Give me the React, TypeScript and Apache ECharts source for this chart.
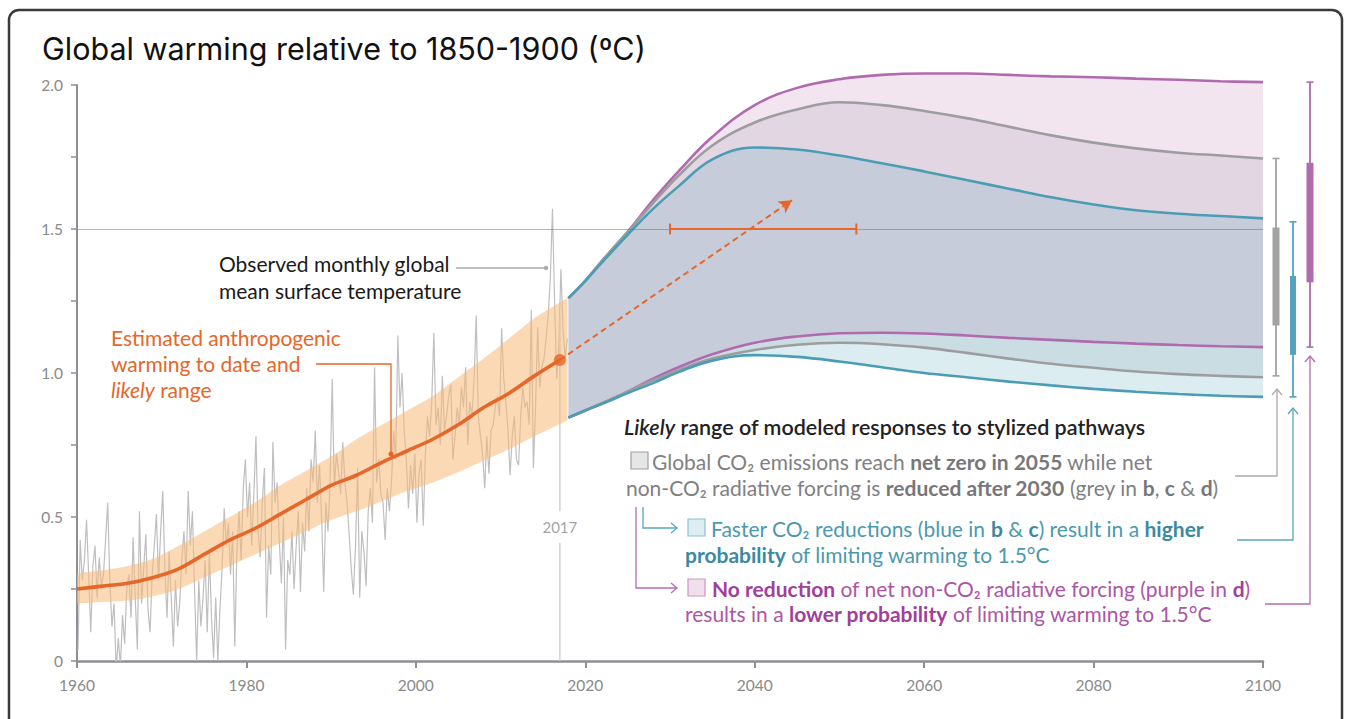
import React, { useEffect, useRef } from "react";
import * as echarts from "echarts";

const FONT = "Lato, 'Noto Sans', 'DejaVu Sans', sans-serif";
const TITLE_FONT = "Inter, 'Noto Sans', sans-serif";

// ---------- Observed monthly GMST (read at quarterly resolution) ----------
const obsStartYear = 1960;
const obsStep = 0.25;
const observedQuarterly = [
  0.04, 0.42, 0.28, 0.35, // 1960
  0.49, 0.3, 0.1, 0.33,
  0.4, 0.22, 0.36, 0.26,
  0.3, 0.42, 0.55, 0.28,
  0.12, 0.2, -0.03, 0.08,
  -0.02, 0.16, 0.06, 0.25, // 1965
  0.3, 0.15, 0.43, 0.22,
  0.04, 0.52, 0.2, 0.32,
  0.44, 0.18, 0.1, 0.3,
  0.4, 0.51, 0.28, 0.45,
  0.59, 0.32, 0.15, 0.38, // 1970
  0.22, 0.05, 0.28, 0.12,
  0.2, 0.35, 0.45, 0.3,
  0.59, 0.4, 0.52, 0.25,
  0.0, 0.28, 0.12, 0.22,
  0.35, 0.1, 0.38, 0.15, // 1975
  0.01, 0.22, 0.0, 0.18,
  0.32, 0.53, 0.4, 0.48,
  0.3, 0.45, 0.05, 0.38,
  0.52, 0.35, 0.6, 0.7,
  0.5, 0.62, 0.4, 0.58, // 1980
  0.78, 0.45, 0.36, 0.55,
  0.67, 0.15, 0.4, 0.3,
  0.76, 0.55, 0.62, 0.42,
  0.27, 0.5, 0.04, 0.35,
  0.3, 0.45, 0.25, 0.4, // 1985
  0.52, 0.24, 0.48, 0.38,
  0.6, 0.45, 0.7, 0.62,
  0.8, 0.55, 0.68, 0.5,
  0.24, 0.55, 0.45, 0.62,
  0.98, 0.6, 0.72, 0.66, // 1990
  0.58, 0.76, 0.62, 0.55,
  0.44, 0.32, 0.23, 0.4,
  0.67, 0.22, 0.45, 0.38,
  0.26, 0.52, 0.6, 0.48,
  1.02, 0.62, 0.7, 0.58, // 1995
  0.55, 0.42, 0.6, 0.52,
  0.62, 0.8, 0.7, 1.13,
  0.88, 1.0, 0.8, 0.7,
  0.53, 0.68, 0.58, 0.72,
  0.48, 0.65, 0.7, 0.47, // 2000
  0.72, 0.85, 0.78, 0.9,
  1.14, 0.82, 0.88, 0.75,
  0.99, 0.8, 0.85, 0.92,
  0.96, 0.7, 0.78, 0.88,
  0.82, 0.95, 0.88, 1.02, // 2005
  0.75, 0.9, 0.85, 0.98,
  1.2, 0.85, 0.78, 0.72,
  0.6, 0.78, 0.65, 0.8,
  0.82, 0.88, 0.92, 0.85,
  1.155, 0.98, 0.9, 0.8, // 2010
  0.645, 0.78, 0.85, 0.7,
  0.68, 0.85, 0.95, 0.88,
  0.9, 0.82, 1.22, 0.67,
  0.88, 1.16, 0.95, 1.02,
  1.05, 1.12, 1.2, 1.33, // 2015
  1.57, 1.25, 0.98, 1.1,
  1.36, 1.15, 1.05, 1.12,
];

// ---------- Estimated anthropogenic warming and likely range ----------
const anthroYears = [1960, 1963, 1966, 1969, 1972, 1975, 1978, 1981, 1984, 1987, 1990, 1993, 1996, 1999, 2002, 2005, 2008, 2011, 2014, 2017];
const anthroValues = [0.25, 0.26, 0.27, 0.29, 0.32, 0.37, 0.42, 0.46, 0.51, 0.56, 0.61, 0.645, 0.69, 0.73, 0.77, 0.82, 0.88, 0.93, 0.99, 1.045];

const bandYears = [1960, 1963, 1966, 1969, 1972, 1975, 1978, 1981, 1984, 1987, 1990, 1993, 1996, 1999, 2002, 2005, 2008, 2011, 2014, 2017.9];
const bandLow = [0.2, 0.205, 0.21, 0.225, 0.25, 0.29, 0.33, 0.37, 0.41, 0.45, 0.49, 0.52, 0.555, 0.59, 0.62, 0.655, 0.695, 0.735, 0.78, 0.835];
const bandHigh = [0.305, 0.315, 0.33, 0.355, 0.4, 0.45, 0.5, 0.55, 0.61, 0.66, 0.71, 0.77, 0.82, 0.87, 0.92, 0.985, 1.05, 1.12, 1.19, 1.26];

// ---------- Modeled pathways 2018-2100 ----------
const futureYears = [2018, 2020, 2022, 2025, 2028, 2031, 2035, 2040, 2045, 2050, 2055, 2060, 2065, 2070, 2075, 2080, 2085, 2090, 2095, 2100];
const purpleHigh = [1.26, 1.32, 1.39, 1.49, 1.6, 1.7, 1.82, 1.93, 1.99, 2.02, 2.035, 2.04, 2.04, 2.035, 2.03, 2.027, 2.022, 2.018, 2.013, 2.01];
const greyHigh = [1.26, 1.32, 1.39, 1.49, 1.59, 1.685, 1.79, 1.87, 1.915, 1.94, 1.93, 1.91, 1.885, 1.855, 1.825, 1.8, 1.78, 1.765, 1.755, 1.745];
const blueHigh = [1.26, 1.32, 1.385, 1.48, 1.57, 1.648, 1.742, 1.783, 1.776, 1.755, 1.728, 1.7, 1.67, 1.64, 1.61, 1.585, 1.565, 1.553, 1.545, 1.537];
const purpleLow = [0.845, 0.87, 0.895, 0.935, 0.98, 1.02, 1.065, 1.105, 1.127, 1.138, 1.14, 1.137, 1.13, 1.122, 1.115, 1.108, 1.102, 1.097, 1.093, 1.09];
const greyLow = [0.845, 0.87, 0.895, 0.935, 0.975, 1.01, 1.05, 1.08, 1.098, 1.105, 1.1, 1.088, 1.07, 1.05, 1.032, 1.018, 1.005, 0.996, 0.99, 0.985];
const blueLow = [0.845, 0.87, 0.893, 0.93, 0.965, 1.003, 1.043, 1.062, 1.056, 1.04, 1.02, 1.0, 0.985, 0.97, 0.957, 0.945, 0.935, 0.927, 0.921, 0.917];

// ---------- 2100 ranges (grey, blue, purple) ----------
const rangeBarLow = [0.99, 0.917, 1.09];
const rangeBarQ1 = [1.165, 1.063, 1.315];
const rangeBarQ3 = [1.505, 1.337, 1.73];
const rangeBarHigh = [1.745, 1.525, 2.01];

// ---------- Annotations ----------
const referenceLevel = 1.5;
const timingRange = [2030, 2052];
const currentYear = 2017;
const currentWarming = 1.045;
const arrowTarget = [2044.4, 1.6];

// styles
const ORANGE = "#e5672a";
const PURPLE = "#b06aae";
const GREY = "#9d9d9f";
const BLUE = "#4b9db6";
const AXIS = "#8e8e94";
const FS = 21;
const barStyles = [
  { offset: 13, color: "#a2a2a4", thick: 7 },
  { offset: 30, color: "#57a3bb", thick: 6 },
  { offset: 47, color: "#b06aae", thick: 7 },
];

function pairs(xs: number[], ys: number[]) {
  return xs.map((x, i) => [x, ys[i]]);
}
// value first, year second (used with encode {x:1, y:0} so stacking happens on the value)
function vpairs(xs: number[], ys: number[]) {
  return xs.map((x, i) => [ys[i], x]);
}
function diff(a: number[], b: number[]) {
  return a.map((v, i) => +(v - b[i]).toFixed(4));
}

function txt(x: number, y: number, text: string, fill: string, extra: any = {}) {
  return {
    type: "text",
    x,
    y,
    silent: true,
    z: 50,
    style: {
      text,
      fill,
      fontFamily: FONT,
      fontSize: FS,
      align: "left",
      verticalAlign: "middle",
      ...extra,
    },
  };
}
function richPart(fill: string, weight: any = "bold", style = "normal", size = FS) {
  return { fill, fontFamily: FONT, fontSize: size, fontWeight: weight, fontStyle: style };
}
function pline(points: number[][], stroke: string, w = 1.3) {
  return { type: "polyline", silent: true, z: 50, shape: { points }, style: { stroke, lineWidth: w, fill: "none" } };
}
function chevUp(x: number, y: number, stroke: string) {
  return pline([[x - 5, y + 6], [x, y], [x + 5, y + 6]], stroke, 1.3);
}
function chevRight(x: number, y: number, stroke: string) {
  return pline([[x - 6, y - 5], [x, y], [x - 6, y + 5]], stroke, 1.3);
}
function box(x: number, y: number, fill: string, stroke: string) {
  return { type: "rect", silent: true, z: 50, shape: { x, y, width: 17, height: 17 }, style: { fill, stroke, lineWidth: 1.2 } };
}

function buildOption(): any {
  const obsData = observedQuarterly.map((v, i) => [obsStartYear + obsStep * (i + 0.5), v]);
  const layers = [
    { d: blueLow, color: "transparent" },
    { d: diff(greyLow, blueLow), color: "#dcedf2" },
    { d: diff(purpleLow, greyLow), color: "#cadde2" },
    { d: diff(blueHigh, purpleLow), color: "#c6ccda" },
    { d: diff(greyHigh, blueHigh), color: "#e3d6e3" },
    { d: diff(purpleHigh, greyHigh), color: "#f2e5f0" },
  ];
  const SM = 0.4;

  const series: any[] = [];
  // observed
  series.push({
    type: "line",
    data: obsData,
    showSymbol: false,
    lineStyle: { color: "#bfbfc1", width: 1.2 },
    z: 2,
  });
  // 2017 reference line
  series.push({
    type: "line",
    data: [[currentYear, 0], [currentYear, 0.41]],
    showSymbol: false,
    lineStyle: { color: "#d2d2d2", width: 1.5 },
    z: 2,
  });
  series.push({
    type: "line",
    data: [[currentYear, 0.52], [currentYear, 1.2]],
    showSymbol: false,
    lineStyle: { color: "#d2d2d2", width: 1.5 },
    z: 2,
  });
  series.push({
    type: "scatter",
    data: [[currentYear, 0.465]],
    symbolSize: 1,
    itemStyle: { color: "rgba(0,0,0,0)" },
    label: { show: true, position: "inside", formatter: "2017", color: "#8a8a8a", fontFamily: FONT, fontSize: 15 },
    z: 3,
  });
  // likely range band (stacked on the value dimension)
  series.push({
    type: "line",
    data: vpairs(bandYears, bandLow),
    encode: { x: 1, y: 0 },
    stack: "band",
    stackStrategy: "all",
    smooth: 0.3,
    showSymbol: false,
    lineStyle: { width: 0, opacity: 0 },
    z: 3,
  });
  series.push({
    type: "line",
    data: vpairs(bandYears, diff(bandHigh, bandLow)),
    encode: { x: 1, y: 0 },
    stack: "band",
    stackStrategy: "all",
    smooth: 0.3,
    showSymbol: false,
    lineStyle: { width: 0, opacity: 0 },
    areaStyle: { color: "#fab978", opacity: 0.55 },
    z: 3,
  });
  // future stacked areas
  layers.forEach((l, i) => {
    series.push({
      type: "line",
      data: vpairs(futureYears, l.d),
      encode: { x: 1, y: 0 },
      stack: "future",
      stackStrategy: "all",
      smooth: SM,
      showSymbol: false,
      clip: i !== layers.length - 1,
      lineStyle: { width: 0, opacity: 0 },
      areaStyle: i === 0 ? { opacity: 0 } : { color: l.color, opacity: 1 },
      z: 3,
    });
  });
  // boundary lines
  const bounds = [
    [purpleHigh, PURPLE, false], [purpleLow, PURPLE, true],
    [greyHigh, GREY, true], [greyLow, GREY, true],
    [blueHigh, BLUE, true], [blueLow, BLUE, true],
  ] as any[];
  bounds.forEach(([d, c, clip]) => {
    series.push({
      type: "line",
      data: pairs(futureYears, d),
      smooth: SM,
      showSymbol: false,
      clip,
      lineStyle: { color: c, width: 2.6 },
      z: 4,
    });
  });
  // anthropogenic warming line
  series.push({
    type: "line",
    data: pairs(anthroYears, anthroValues),
    smooth: 0.3,
    showSymbol: false,
    lineStyle: { color: ORANGE, width: 3.6 },
    z: 6,
    markLine: {
      silent: true,
      symbol: ["none", "arrow"],
      symbolSize: [11, 13],
      label: { show: false },
      lineStyle: { color: ORANGE, width: 2, type: [6, 4] },
      data: [[{ coord: [currentYear, currentWarming] }, { coord: arrowTarget }]],
    },
  });
  // 1.5 reference line
  series.push({
    type: "line",
    data: [],
    z: 5,
    markLine: {
      silent: true,
      symbol: ["none", "none"],
      label: { show: false },
      lineStyle: { color: "rgba(110,110,115,0.5)", width: 1.2, type: "solid" },
      data: [{ yAxis: referenceLevel }],
    },
  });
  // current dot
  series.push({
    type: "scatter",
    data: [[currentYear, currentWarming]],
    symbolSize: 12,
    itemStyle: { color: ORANGE },
    z: 7,
  });
  // timing range error bar
  series.push({
    type: "line",
    data: timingRange.map((y) => [y, referenceLevel]),
    showSymbol: true,
    symbol: "rect",
    symbolSize: [2, 11],
    itemStyle: { color: ORANGE },
    lineStyle: { color: ORANGE, width: 2.2 },
    z: 8,
  });
  // 2100 range bars
  series.push({
    type: "custom",
    data: rangeBarLow.map((lo, i) => [2100, lo, rangeBarQ1[i], rangeBarQ3[i], rangeBarHigh[i]]),
    clip: false,
    silent: true,
    z: 9,
    renderItem: (params: any, api: any) => {
      const st = barStyles[params.dataIndex];
      const x = api.coord([api.value(0), 0])[0] + st.offset;
      const yLo = api.coord([2100, api.value(1)])[1];
      const yQ1 = api.coord([2100, api.value(2)])[1];
      const yQ3 = api.coord([2100, api.value(3)])[1];
      const yHi = api.coord([2100, api.value(4)])[1];
      return {
        type: "group",
        children: [
          { type: "line", shape: { x1: x, y1: yHi, x2: x, y2: yLo }, style: { stroke: st.color, lineWidth: 1.8 } },
          { type: "line", shape: { x1: x - 3.5, y1: yHi, x2: x + 3.5, y2: yHi }, style: { stroke: st.color, lineWidth: 1.6 } },
          { type: "line", shape: { x1: x - 3.5, y1: yLo, x2: x + 3.5, y2: yLo }, style: { stroke: st.color, lineWidth: 1.6 } },
          { type: "rect", shape: { x: x - st.thick / 2, y: yQ3, width: st.thick, height: yQ1 - yQ3 }, style: { fill: st.color } },
        ],
      };
    },
  });

  const greyTxt = "#808082";
  const greyBold = "#77777a";
  const blueTxt = "#4a99ae";
  const blueBold = "#3a8aa2";
  const purpTxt = "#ad55a6";
  const purpBold = "#a0409a";
  const CONN_GREY = "#aaaaaa";
  const CONN_BLUE = "#5aa6bd";
  const CONN_PURP = "#b36cb0";

  const graphic: any[] = [
    {
      type: "rect",
      silent: true,
      z: 0,
      shape: { x: 9, y: 10, width: 1333, height: 780, r: 10 },
      style: { fill: "none", stroke: "#3a3a3a", lineWidth: 2.5 },
    },
    // observed annotation
    txt(219, 263, "Observed monthly global", "#1a1a1a"),
    txt(219, 290, "mean surface temperature", "#1a1a1a"),
    pline([[456, 268], [545, 268]], "#aaaaaa", 1.5),
    { type: "circle", silent: true, z: 50, shape: { cx: 546, cy: 268, r: 2.2 }, style: { fill: "#aaaaaa" } },
    // anthropogenic annotation
    txt(111, 337, "Estimated anthropogenic", ORANGE),
    txt(111, 363, "warming to date and", ORANGE),
    txt(111, 389, "{i|likely} range", ORANGE, { rich: { i: richPart(ORANGE, "normal", "italic") } }),
    pline([[316, 364], [391, 364], [391, 454]], ORANGE, 1.3),
    { type: "circle", silent: true, z: 50, shape: { cx: 391, cy: 454, r: 2.6 }, style: { fill: ORANGE } },
    // legend block
    txt(624, 427, "{i|Likely} range of modeled responses to stylized pathways", "#222222", {
      fontWeight: 600,
      fontSize: 21.5,
      rich: { i: richPart("#222222", 600, "italic", 21.5) },
    }),
    box(631, 452, "#e6e6e6", "#a0a0a0"),
    txt(652, 461, "Global CO₂ emissions reach {b|net zero in 2055} while net", greyTxt, {
      rich: { b: richPart(greyBold) },
    }),
    txt(626, 487, "non-CO₂ radiative forcing is {b|reduced after 2030} (grey in {b|b}, {b|c} & {b|d})", greyTxt, {
      rich: { b: richPart(greyBold) },
    }),
    box(688, 519, "#dceef2", "#8fc0cf"),
    txt(711, 528, "Faster CO₂ reductions (blue in {b|b} & {b|c}) result in a {b|higher}", blueTxt, {
      rich: { b: richPart(blueBold) },
    }),
    txt(685, 554, "{b|probability} of limiting warming to 1.5°C", blueTxt, {
      rich: { b: richPart(blueBold) },
    }),
    box(688, 579, "#f0e0ee", "#c995c4"),
    txt(712, 588, "{b|No reduction} of net non-CO₂ radiative forcing (purple in {b|d})", purpTxt, {
      rich: { b: richPart(purpBold) },
    }),
    txt(685, 613, "results in a {b|lower probability} of limiting warming to 1.5°C", purpTxt, {
      rich: { b: richPart(purpBold) },
    }),
    // left connectors
    pline([[643, 507], [643, 528], [676, 528]], CONN_BLUE),
    chevRight(677, 528, CONN_BLUE),
    pline([[636, 507], [636, 588], [676, 588]], CONN_PURP),
    chevRight(677, 588, CONN_PURP),
    // right connectors
    pline([[1235, 476], [1277, 476], [1277, 390]], CONN_GREY),
    chevUp(1277, 389, CONN_GREY),
    pline([[1237, 540], [1293, 540], [1293, 409]], CONN_BLUE),
    chevUp(1293, 408, CONN_BLUE),
    pline([[1265, 604], [1310, 604], [1310, 357]], CONN_PURP),
    chevUp(1310, 356, CONN_PURP),
  ];

  return {
    animation: false,
    backgroundColor: "#ffffff",
    title: {
      text: "Global warming relative to 1850-1900 (ºC)",
      left: 37,
      top: 28,
      textStyle: { fontFamily: TITLE_FONT, fontSize: 30.5, fontWeight: "normal", color: "#111111" },
    },
    grid: { left: 77, right: 82, top: 85, bottom: 58, containLabel: false },
    xAxis: {
      type: "value",
      min: 1960,
      max: 2100,
      interval: 20,
      axisLine: { show: true, lineStyle: { color: AXIS, width: 2.5 } },
      axisTick: { show: true, length: 7, lineStyle: { color: AXIS, width: 2 } },
      axisLabel: {
        color: "#8a8a8a",
        fontFamily: FONT,
        fontSize: 15.5,
        margin: 16,
        formatter: (v: number) => String(Math.round(v)),
      },
      splitLine: { show: false },
    },
    yAxis: {
      type: "value",
      min: 0,
      max: 2,
      interval: 0.25,
      axisLine: { show: true, lineStyle: { color: AXIS, width: 2 } },
      axisTick: { show: true, length: 6, lineStyle: { color: AXIS, width: 1.5 } },
      axisLabel: {
        color: "#8a8a8a",
        fontFamily: FONT,
        fontSize: 15.5,
        margin: 14,
        formatter: (v: number) => {
          const r = Math.round(v * 100) / 100;
          if (r === 0) return "0";
          if (Math.abs(r * 2 - Math.round(r * 2)) > 1e-6) return "";
          return r.toFixed(1);
        },
      },
      splitLine: { show: false },
    },
    series,
    graphic,
  };
}

export default function App() {
  const ref = useRef<HTMLDivElement>(null);
  useEffect(() => {
    const chart = echarts.init(ref.current!, null, { renderer: "svg" });
    chart.setOption(buildOption());
    return () => chart.dispose();
  }, []);
  return (
    <div
      ref={ref}
      style={{ position: "absolute", left: 0, top: 0, width: 1345, height: 719, background: "#ffffff" }}
    />
  );
}
